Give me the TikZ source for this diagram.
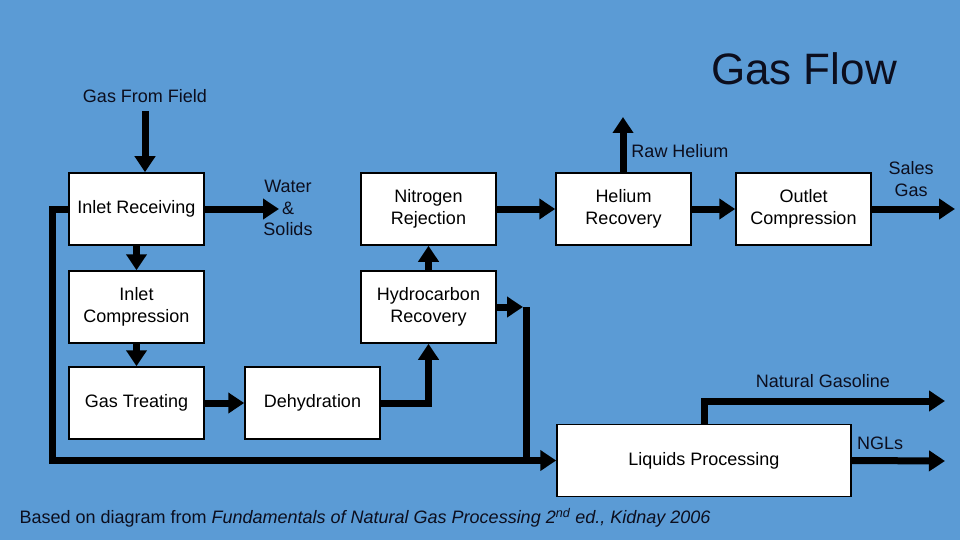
\documentclass[tikz,border=0pt]{standalone}
\usepackage{fontspec}
\setmainfont{Liberation Sans}
\usetikzlibrary{arrows.meta,positioning}
\definecolor{slidebg}{RGB}{91,155,213}
\definecolor{labelink}{RGB}{12,14,30}

\begin{document}
\begin{tikzpicture}[
      x=1pt, y=-1pt,
      font=\fontsize{18}{21.5}\selectfont,
      unit/.style={draw, fill=white, line width=1.5pt, minimum width=135pt, minimum height=72pt, inner sep=0pt, align=center},
      lbl/.style={text=labelink, align=center, inner sep=1pt},
      flow/.style={-{Triangle[width=20pt,length=16pt]}, line width=7pt},
      pipe/.style={line width=7pt}
    ]
      \useasboundingbox[fill=slidebg] (0,0) rectangle (960,540);
      % process units
      \node[unit] (recv) at (136.5,209) {Inlet Receiving};
      \node[unit] (comp) at (136.5,307) {Inlet\\ Compression};
      \node[unit] (treat) at (136.5,403) {Gas Treating};
      \node[unit] (dehy) at (312.5,403) {Dehydration};
      \node[unit] (nrej) at (428.5,209) {Nitrogen\\ Rejection};
      \node[unit] (hcrec) at (428.5,307) {Hydrocarbon\\ Recovery};
      \node[unit] (herec) at (623.5,209) {Helium\\ Recovery};
      \node[unit] (outcomp) at (803.5,209) {Outlet\\ Compression};
      \node[unit, minimum width=294pt] (liq) at (704,460.5) {Liquids Processing};
      % stream labels
      \node[font=\fontsize{44}{48}\selectfont, text=labelink] (title) at (804,69) {Gas Flow};
      \node[lbl] (field) at (145,96) {Gas From Field};
      \node[lbl] (water) at (288,208) {Water\\ \&\\ Solids};
      \node[lbl] (rawhe) at (680,151) {Raw Helium};
      \node[lbl] (sales) at (911,179) {Sales\\ Gas};
      \node[lbl] (natgas) at (823,381) {Natural Gasoline};
      \node[lbl] (ngls) at (880,443) {NGLs};
      \node[text=labelink] (source) at (365,518) {Based on diagram from \textit{Fundamentals of Natural Gas Processing 2\textsuperscript{nd} ed., Kidnay 2006}};
      % free ends
      \coordinate (loopx) at (52,0);
      \coordinate (waterin) at (279,209);
      \coordinate (merge) at (523,307);
      \coordinate (heout) at (623,117);
      \coordinate (salesout) at (955,209);
      \coordinate (natout) at (945,401);
      \coordinate (nglout) at (945,461);
      % streams
      \draw[flow, shorten <=7pt] (field.south) -- (field.south |- recv.north);
      \draw[flow] (recv.east) -- (waterin);
      \draw[flow] (recv) -- (comp);
      \draw[flow] (comp) -- (treat);
      \draw[flow] (treat) -- (dehy);
      \draw[flow] (dehy.east) -| (hcrec.south);
      \draw[flow] (hcrec) -- (nrej);
      \draw[flow] (nrej) -- (herec);
      \draw[flow] (herec) -- (outcomp);
      \draw[flow] (outcomp.east) -- (salesout);
      \draw[flow] (herec.north -| heout) -- (heout);
      \draw[flow] (recv.west) -- (recv.west -| loopx) |- (liq.west);
      \draw[flow] (hcrec.east) -- (merge);
      \draw[pipe] ([xshift=3pt]merge) -- ([xshift=3pt]merge |- liq.west);
      \draw[flow] (liq.north) |- (natout);
      \draw[flow] (liq.east) -- (nglout);
    \end{tikzpicture}
\end{document}
